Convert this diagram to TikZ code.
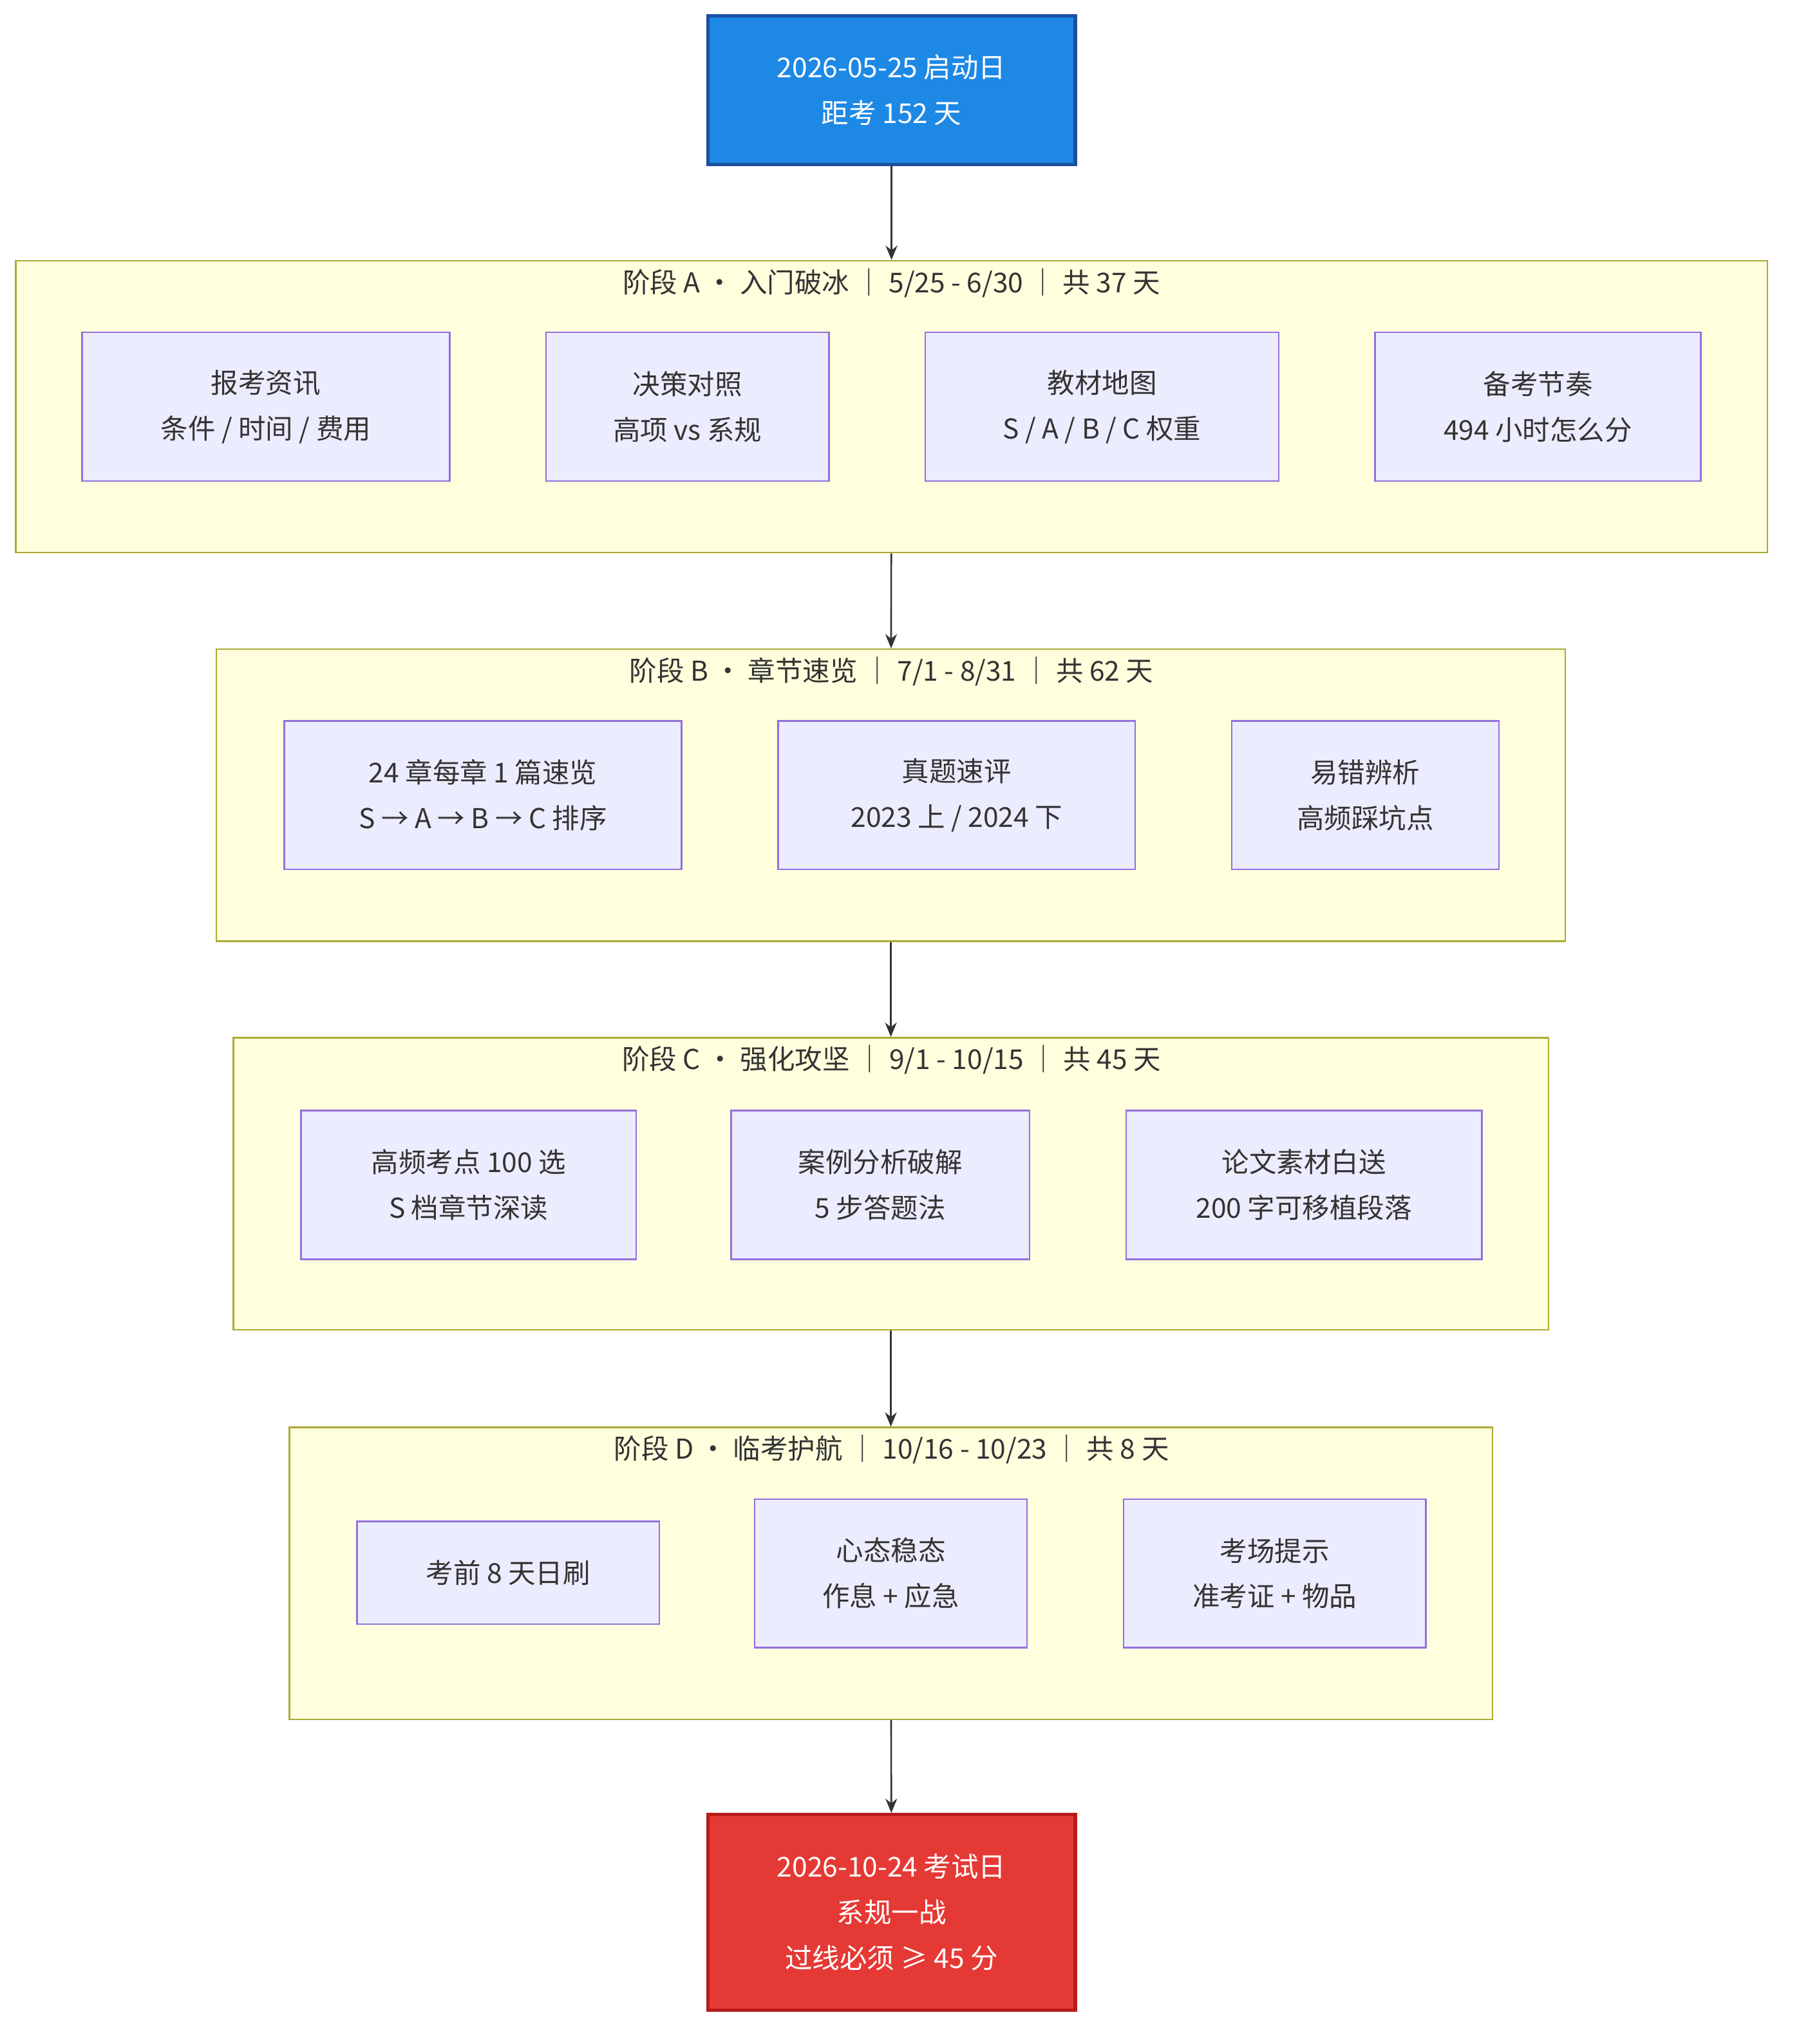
\documentclass[tikz,border=0pt]{standalone}
\usepackage{fontspec}
\setmainfont{Noto Sans CJK SC}
\usetikzlibrary{arrows.meta}
\definecolor{boxfill}{HTML}{ECECFF}
\definecolor{boxline}{HTML}{9370DB}
\definecolor{grpfill}{HTML}{FFFFDE}
\definecolor{grpline}{HTML}{AAAA33}
\definecolor{startfill}{HTML}{1E88E5}
\definecolor{startline}{HTML}{1A4FA0}
\definecolor{endfill}{HTML}{E53935}
\definecolor{endline}{HTML}{B71C1C}
\definecolor{txt}{HTML}{333333}
\begin{document}
\begin{tikzpicture}[x=1pt,y=-1pt,
    every node/.style={font=\fontsize{21}{35}\selectfont, text=txt, align=center, inner sep=0pt},
    task/.style={draw=boxline, fill=boxfill, line width=1.2pt, minimum height=114pt},
    group/.style={draw=grpline, fill=grpfill, line width=1.2pt, minimum height=224pt},
    gtitle/.style={},
    milestone/.style={line width=2.5pt, text=white, minimum width=282pt},
    flow/.style={draw=txt, line width=1.3pt, -{Stealth[length=11pt,width=9pt]}}]
\useasboundingbox (0,0) rectangle (1380,1568);

% start and end
\node[milestone, draw=startline, fill=startfill, minimum height=114pt] (start) at (684,69) {2026-05-25 启动日\\距考 152 天};

% stage A
\node[group, minimum width=1344pt] (gA) at (684,312) {};
\node (tA) at (684,217) {阶段 A · 入门破冰 ｜ 5/25 - 6/30 ｜ 共 37 天};
\node[task, minimum width=282pt] (a1) at (204,312) {报考资讯\\条件 / 时间 / 费用};
\node[task, minimum width=217pt] (a2) at (527.5,312) {决策对照\\高项 vs 系规};
\node[task, minimum width=271pt] (a3) at (845.5,312) {教材地图\\S / A / B / C 权重};
\node[task, minimum width=250pt] (a4) at (1180,312) {备考节奏\\494 小时怎么分};

% stage B
\node[group, minimum width=1035pt] (gB) at (683.5,610) {};
\node (tB) at (684,515) {阶段 B · 章节速览 ｜ 7/1 - 8/31 ｜ 共 62 天};
\node[task, minimum width=305pt] (b1) at (370.5,610) {24 章每章 1 篇速览\\S → A → B → C 排序};
\node[task, minimum width=274pt] (b2) at (734,610) {真题速评\\2023 上 / 2024 下};
\node[task, minimum width=205pt] (b3) at (1047.5,610) {易错辨析\\高频踩坑点};

% stage C
\node[group, minimum width=1009pt] (gC) at (683.5,908) {};
\node (tC) at (684,813) {阶段 C · 强化攻坚 ｜ 9/1 - 10/15 ｜ 共 45 天};
\node[task, minimum width=257pt] (c1) at (359.5,909) {高频考点 100 选\\S 档章节深读};
\node[task, minimum width=229pt] (c2) at (675.5,909) {案例分析破解\\5 步答题法};
\node[task, minimum width=273pt] (c3) at (1000.5,909) {论文素材白送\\200 字可移植段落};

% stage D
\node[group, minimum width=923pt] (gD) at (683.5,1207) {};
\node (tD) at (684,1112) {阶段 D · 临考护航 ｜ 10/16 - 10/23 ｜ 共 8 天};
\node[task, minimum width=232pt, minimum height=79pt] (d1) at (390,1206.5) {考前 8 天日刷};
\node[task, minimum width=209pt] (d2) at (683.5,1207) {心态稳态\\作息 + 应急};
\node[task, minimum width=232pt] (d3) at (978,1207) {考场提示\\准考证 + 物品};

\node[milestone, draw=endline, fill=endfill, minimum height=150pt] (finish) at (684,1467) {2026-10-24 考试日\\系规一战\\过线必须 ≥ 45 分};

\draw[flow] (start) -- (gA);
\draw[flow] (gA) -- (gB);
\draw[flow] (gB) -- (gC);
\draw[flow] (gC) -- (gD);
\draw[flow] (gD) -- (finish);
\end{tikzpicture}
\end{document}
